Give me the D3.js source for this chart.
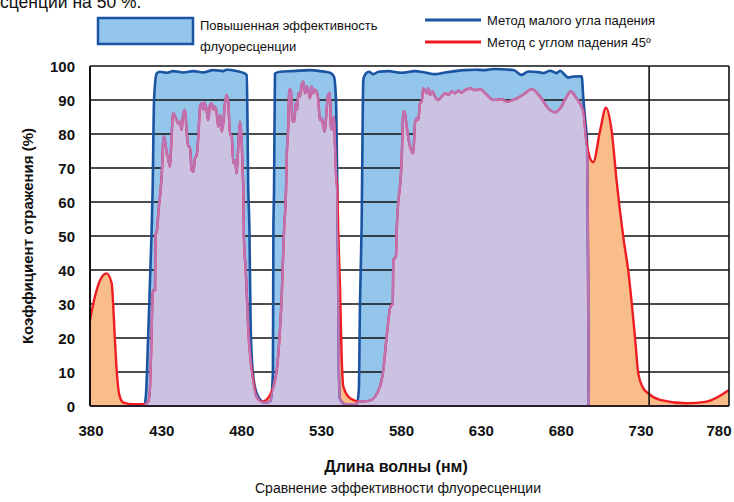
<!DOCTYPE html>
<html>
  <head>
    <meta charset="utf-8" />
    <script src="https://cdn.jsdelivr.net/npm/d3@7"></script>
    <style>
        body {margin: 0; background: #fff;}
        text {font-family: "Liberation Sans", Arial, sans-serif; fill: #111;}
    </style>
  </head>
  <body>

    <svg id="viz" width="734" height="502"></svg>

    <script>
        // [wavelength nm, reflectance %]

        // small angle of incidence method (blue)
        var smallAngle = [
            [414, 0], [415, 3], [416.5, 22], [418.6, 52], [419.2, 63.5], [420.1, 90], [421.7, 97.8],
            [423.8, 98.3], [428, 98], [432.1, 98.5], [438.4, 98.1], [444.7, 98.5], [450.9, 98.1],
            [457.2, 98.8], [463.4, 98.5], [465.5, 98.9], [471.8, 98.5], [476, 98], [478.1, 97.3],
            [479.1, 63.5], [479.8, 51.8], [480.6, 22.4], [482.2, 8.6], [485, 3], [489.5, 1], [493, 1.5],
            [494.5, 10], [494.8, 51.8], [495.2, 63.5], [495.8, 97.8], [498.9, 98.3], [507.3, 98.5],
            [517.7, 98.8], [524, 98.5], [530.2, 98], [532.7, 96.9], [534, 90], [534.8, 63.5],
            [535.3, 40], [535.8, 10], [536.5, 2], [540, 0.5], [547, 0.5], [548.3, 5], [549, 30],
            [550, 52], [551.1, 95.9], [552.1, 97.4], [554.6, 98.3], [557.3, 97.6], [560.5, 98.3],
            [566.7, 98.5], [575.1, 98], [583.4, 98.5], [589.7, 98.1], [596, 97.6], [602.2, 98.1],
            [608.5, 98.5], [614.8, 98.8], [621, 98.9], [627.3, 98.8], [632.5, 99.1], [645, 98.8],
            [650.2, 97.4], [654.4, 98.4], [660.7, 98.2], [663.8, 97.9], [668, 98.6], [672.1, 97.9],
            [674.2, 98.6], [679.4, 96.6], [682.6, 96.9], [687.8, 97], [688.8, 90.5], [690, 84],
            [691.2, 77], [691.8, 40], [692.2, 0]
        ];

        // 45 degree angle of incidence method (red)
        var angle45 = [
            [380, 25.3], [383, 32], [386.3, 37], [390.4, 39], [393.6, 36], [394.6, 29], [395.6, 19.4],
            [397, 8.6], [398.4, 3.2], [400.9, 1], [407, 0.5], [414.4, 0.5], [416.5, 1.3], [417.5, 5],
            [418.5, 20], [419.3, 34], [420.7, 34], [421, 50], [422, 52], [423, 58], [424.2, 63.5],
            [424.9, 67.9], [425.9, 78.2], [426.5, 79.2], [428, 74.3], [428.7, 73.3], [430.1, 70.4],
            [430.8, 76.5], [432.1, 86.1], [433.8, 84.6], [435.3, 83.1], [436.3, 83.6], [437.4, 81.2],
            [438.4, 86.1], [439.5, 87.1], [440.5, 80.7], [441.5, 76.3], [442.6, 76.3], [443.6, 69.4],
            [444.7, 68.9], [445.7, 72.8], [446.8, 73.8], [447.8, 79.2], [448.9, 88], [449.9, 89],
            [450.9, 87.1], [451.5, 89.2], [453, 87.1], [454, 84.1], [455.1, 88.5], [456.2, 89],
            [457.2, 87.1], [458.2, 88], [459.3, 86.1], [460.3, 82.2], [461.4, 85.6], [462.4, 80.7],
            [463.4, 83.1], [464.5, 89], [465.5, 91.5], [466.6, 89], [467.6, 79.7], [468.7, 79.7],
            [469.7, 71.4], [470.8, 72.3], [471.8, 68.4], [472.8, 76.3], [473.9, 83.6], [475, 77.3],
            [475.6, 68.4], [476, 63.5], [476.3, 50], [477.5, 40], [479.1, 22.4], [482.2, 7.6],
            [484.3, 2.7], [487.8, 1.3], [492.7, 3.2], [496.9, 10.6], [498.9, 22.4], [500, 32],
            [501, 45.9], [501.5, 52], [502.7, 63.5], [503.1, 72.4], [504.1, 82.2], [504.8, 93.1],
            [505.8, 92.9], [506.6, 84.1], [507.9, 83.6], [508.7, 89], [509.7, 87.1], [510.4, 92],
            [511.4, 91], [512.5, 94.4], [513.5, 95.4], [514.6, 92], [515.6, 94], [516.6, 93],
            [517.7, 90.5], [518.7, 94], [519.7, 92], [520.8, 93], [521.8, 92.5], [522.9, 90],
            [523.9, 84.1], [525, 84.6], [526, 82.2], [527, 80.7], [528.1, 87.1], [529.1, 91.5],
            [530.2, 92], [530.8, 82.2], [531.8, 81.2], [532.7, 85.1], [533.4, 76.3], [534, 68.4],
            [534.8, 63.5], [535.5, 50], [536.5, 35], [537.5, 15], [538.6, 5.7], [542.8, 2.3],
            [549, 1.3], [555.3, 1.6], [561.5, 5.7], [563.6, 10.6], [565.7, 20.4], [568.2, 29.4],
            [569.5, 30], [569.9, 42.9], [571.5, 44], [572, 51.8], [575.1, 72.4], [576.1, 86.1],
            [576.9, 86.6], [578.2, 82.2], [580.3, 76.3], [582.4, 74.3], [583.4, 83.1], [584.5, 84.6],
            [585.5, 84.1], [586.6, 89], [587.6, 89.5], [588.6, 93.4], [589.7, 92.9], [590.7, 92],
            [591.8, 93.4], [592.8, 91.5], [594.3, 92.5], [596, 91], [598, 90], [600.1, 91],
            [602.2, 92], [604.3, 91.5], [606.4, 92.5], [608.5, 92], [610.5, 92.7], [612.6, 92.2],
            [614.8, 92.9], [617.9, 93.4], [621, 92.9], [624.2, 93.2], [628.4, 91.5], [632.5, 90],
            [637.8, 90.2], [640.9, 89.5], [647.2, 90.5], [651.3, 91.6], [656.5, 93.2], [661.8, 91],
            [666.9, 87.5], [671.1, 86.4], [674.2, 87.5], [678.4, 91], [680.9, 92.5], [684.6, 90.5],
            [688.8, 86.6], [690.5, 78.7], [691.9, 74.8], [695, 71.7], [699.2, 80.7], [703, 87.7],
            [706.6, 80.7], [709.7, 66], [713.8, 49.8], [717, 39.5], [721.2, 20], [723.2, 9.6],
            [726, 5.5], [729.5, 3.7], [736.8, 1.8], [753.5, 0.8], [766, 1.3], [780, 4.7]
        ];

        var xTicks = [380, 430, 480, 530, 580, 630, 680, 730, 780];
        var yTicks = [0, 10, 20, 30, 40, 50, 60, 70, 80, 90, 100];
        var xGrid = [730];

        var legendBox = ["Повышенная эффективность", "флуоресценции"];
        var legendLines = ["Метод малого угла падения", "Метод с углом падения 45º"];

        var blue = "#1b54a3", lightBlue = "#93c6ea", red = "#ee1d24", orange = "#f9bd89",
            lavender = "#cbc1e0", purple = "#c071b3";

        var svg = d3.select("#viz");

        var x = d3.scaleLinear().domain([380, 780]).range([90, 729]);
        var y = d3.scaleLinear().domain([0, 100]).range([406, 66]);

        var area = d3.area()
            .curve(d3.curveMonotoneX)
            .x(function(d) { return x(d[0]); })
            .y0(y(0))
            .y1(function(d) { return y(d[1]); });
        var line = d3.line()
            .curve(d3.curveMonotoneX)
            .x(function(d) { return x(d[0]); })
            .y(function(d) { return y(d[1]); });

        // clip shapes: the overlap of both areas is drawn lavender
        var defs = svg.append("defs");
        defs.append("clipPath").attr("id", "clipBlue")
            .append("path").attr("d", area(smallAngle));
        defs.append("clipPath").attr("id", "clipRed")
            .append("path").attr("d", area(angle45));

        // partial sentence cut off at the top
        svg.append("text")
            .attr("x", 0).attr("y", 8)
            .style("font-size", "17.5px")
            .text("сценции на 50 %.");

        var plot = svg.append("g");

        plot.append("path")
            .attr("d", area(smallAngle))
            .attr("fill", lightBlue);

        // horizontal grid lines
        plot.selectAll(".grid")
            .data(yTicks.slice(1, -1))
            .enter().append("line")
            .attr("x1", x(380)).attr("x2", x(780))
            .attr("y1", function(d) { return y(d); })
            .attr("y2", function(d) { return y(d); })
            .attr("stroke", "#111")
            .attr("stroke-width", 1.6);

        plot.append("path")
            .attr("d", area(angle45))
            .attr("fill", orange);

        plot.append("path")
            .attr("d", area(angle45))
            .attr("fill", lavender)
            .attr("clip-path", "url(#clipBlue)");

        plot.append("path")
            .attr("d", line(smallAngle))
            .attr("fill", "none")
            .attr("stroke", blue)
            .attr("stroke-width", 2.6)
            .attr("stroke-linejoin", "round");

        plot.append("path")
            .attr("d", line(angle45))
            .attr("fill", "none")
            .attr("stroke", red)
            .attr("stroke-width", 2.4)
            .attr("stroke-linejoin", "round");

        // border of the overlap
        plot.append("path")
            .attr("d", line(angle45))
            .attr("fill", "none")
            .attr("stroke", purple)
            .attr("stroke-width", 2.4)
            .attr("stroke-linejoin", "round")
            .attr("clip-path", "url(#clipBlue)");
        plot.append("path")
            .attr("d", line(smallAngle))
            .attr("fill", "none")
            .attr("stroke", purple)
            .attr("stroke-width", 2.4)
            .attr("stroke-linejoin", "round")
            .attr("clip-path", "url(#clipRed)");

        // frame
        plot.selectAll(".vgrid")
            .data(xGrid)
            .enter().append("line")
            .attr("x1", function(d) { return x(d); })
            .attr("x2", function(d) { return x(d); })
            .attr("y1", y(0)).attr("y2", y(100))
            .attr("stroke", "#111").attr("stroke-width", 1.6);
        plot.append("line").attr("x1", x(380)).attr("x2", x(780))
            .attr("y1", y(100)).attr("y2", y(100))
            .attr("stroke", "#111").attr("stroke-width", 1.6);
        plot.append("line").attr("x1", x(780)).attr("x2", x(780))
            .attr("y1", y(0)).attr("y2", y(100))
            .attr("stroke", "#111").attr("stroke-width", 1.6);
        plot.append("line").attr("x1", x(380)).attr("x2", x(380))
            .attr("y1", y(0)).attr("y2", y(100))
            .attr("stroke", "#111").attr("stroke-width", 2);
        plot.append("line").attr("x1", x(380)).attr("x2", x(780))
            .attr("y1", y(0)).attr("y2", y(0))
            .attr("stroke", "#2a1a2a").attr("stroke-width", 2);

        // axis labels
        svg.selectAll(".ylab")
            .data(yTicks)
            .enter().append("text")
            .attr("x", 75)
            .attr("y", function(d) { return y(d); })
            .attr("dy", "0.4em")
            .attr("text-anchor", "end")
            .style("font-size", "15px")
            .style("font-weight", "bold")
            .text(function(d) { return d; });

        // tick labels sit a little left of their ticks, kept inside the picture
        svg.selectAll(".xlab")
            .data(xTicks)
            .enter().append("text")
            .attr("x", function(d) { return Math.max(91, Math.min(719, x(d) - 8)); })
            .attr("y", 436)
            .attr("text-anchor", "middle")
            .style("font-size", "15px")
            .style("font-weight", "bold")
            .text(function(d) { return d; });

        svg.append("text")
            .attr("transform", "translate(33,236) rotate(-90)")
            .attr("text-anchor", "middle")
            .style("font-size", "15px")
            .style("font-weight", "bold")
            .text("Коэффициент отражения (%)");

        svg.append("text")
            .attr("x", 396).attr("y", 472)
            .attr("text-anchor", "middle")
            .style("font-size", "16px")
            .style("font-weight", "bold")
            .text("Длина волны (нм)");

        svg.append("text")
            .attr("x", 398).attr("y", 493)
            .attr("text-anchor", "middle")
            .style("font-size", "14px")
            .text("Сравнение эффективности флуоресценции");

        // legend
        svg.append("rect")
            .attr("x", 98).attr("y", 18).attr("width", 95).attr("height", 26)
            .attr("fill", lightBlue).attr("stroke", blue).attr("stroke-width", 2.5);
        svg.selectAll(".lbox")
            .data(legendBox)
            .enter().append("text")
            .attr("x", 200)
            .attr("y", function(d, i) { return 30 + i * 21; })
            .style("font-size", "13px")
            .text(function(d) { return d; });

        var lineColors = [blue, red];
        var lg = svg.selectAll(".lline")
            .data(legendLines)
            .enter().append("g")
            .attr("transform", function(d, i) { return "translate(0," + (20 + i * 22) + ")"; });
        lg.append("line")
            .attr("x1", 425).attr("x2", 481)
            .attr("stroke", function(d, i) { return lineColors[i]; })
            .attr("stroke-width", 3);
        lg.append("text")
            .attr("x", 487).attr("dy", "0.35em")
            .style("font-size", "13px")
            .text(function(d) { return d; });
    </script>

  </body>
</html>
